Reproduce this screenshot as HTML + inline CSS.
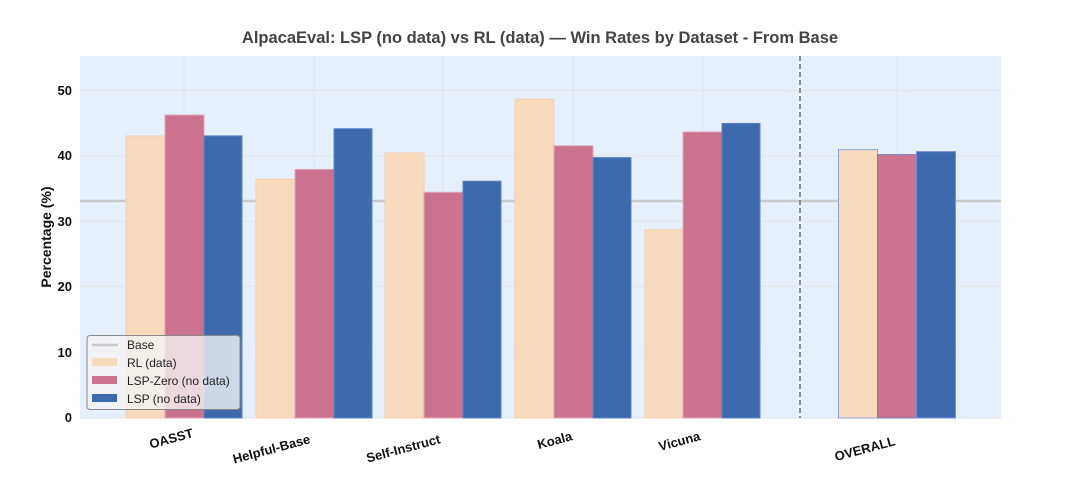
<!DOCTYPE html>
<html><head><meta charset="utf-8"><style>body{margin:0;background:#fff}</style></head><body>
<svg width="1080" height="483" xmlns="http://www.w3.org/2000/svg" font-family="Liberation Sans, sans-serif">
<rect x="0" y="0" width="1080" height="483" fill="#fff"/>
<text x="540" y="43" text-anchor="middle" font-size="16.5" font-weight="bold" fill="#444">AlpacaEval: LSP (no data) vs RL (data) — Win Rates by Dataset - From Base</text>
<rect x="80" y="56" width="921" height="362" fill="#e6f0fc"/>
<g stroke="#e3e3e8" stroke-width="1">
<line x1="80" x2="1001" y1="90.5" y2="90.5"/><line x1="80" x2="1001" y1="155.9" y2="155.9"/>
<line x1="80" x2="1001" y1="221.2" y2="221.2"/><line x1="80" x2="1001" y1="286.6" y2="286.6"/>
<line x1="80" x2="1001" y1="352" y2="352"/><line x1="80" x2="1001" y1="418" y2="418"/>
<line x1="184" x2="184" y1="56" y2="418"/><line x1="314" x2="314" y1="56" y2="418"/>
<line x1="443" x2="443" y1="56" y2="418"/><line x1="573" x2="573" y1="56" y2="418"/>
<line x1="703" x2="703" y1="56" y2="418"/><line x1="897" x2="897" y1="56" y2="418"/>
</g>
<g font-size="13" font-weight="bold" fill="#111" text-anchor="end">
<text x="72" y="95">50</text><text x="72" y="160">40</text><text x="72" y="226">30</text>
<text x="72" y="291">20</text><text x="72" y="357">10</text><text x="72" y="422">0</text>
</g>
<text transform="translate(51,237) rotate(-90)" text-anchor="middle" font-size="14" font-weight="bold" fill="#111">Percentage (%)</text>
<line x1="80" x2="1001" y1="201" y2="201" stroke="#c8cacc" stroke-width="2.5"/>
<g stroke-width="1">
<!-- OASST -->
<rect x="126" y="135.9" width="39" height="282.1" fill="#f8dbbd" stroke="#f3d0b0"/>
<rect x="165" y="115" width="39" height="303" fill="#cb738e" stroke="#e0a4b8"/>
<rect x="204" y="135.9" width="38" height="282.1" fill="#3d6aad" stroke="#5b86c8"/>
<!-- Helpful -->
<rect x="256" y="179.2" width="39" height="238.8" fill="#f8dbbd" stroke="#f3d0b0"/>
<rect x="295" y="169.4" width="39" height="248.6" fill="#cb738e" stroke="#e0a4b8"/>
<rect x="334" y="128.7" width="38" height="289.3" fill="#3d6aad" stroke="#5b86c8"/>
<!-- Self -->
<rect x="385" y="153" width="39" height="265" fill="#f8dbbd" stroke="#f3d0b0"/>
<rect x="424" y="192.3" width="39" height="225.7" fill="#cb738e" stroke="#e0a4b8"/>
<rect x="463" y="181.2" width="38" height="236.8" fill="#3d6aad" stroke="#5b86c8"/>
<!-- Koala -->
<rect x="515" y="99.2" width="39" height="318.8" fill="#f8dbbd" stroke="#f3d0b0"/>
<rect x="554" y="145.8" width="39" height="272.2" fill="#cb738e" stroke="#e0a4b8"/>
<rect x="593" y="157.6" width="38" height="260.4" fill="#3d6aad" stroke="#5b86c8"/>
<!-- Vicuna -->
<rect x="645" y="229.7" width="38" height="188.3" fill="#f8dbbd" stroke="#f3d0b0"/>
<rect x="683" y="132" width="39" height="286" fill="#cb738e" stroke="#e0a4b8"/>
<rect x="722" y="123.4" width="38" height="294.6" fill="#3d6aad" stroke="#5b86c8"/>
<!-- Overall -->
<rect x="838.5" y="149.7" width="39" height="268.3" fill="#f8dbbd" stroke="#8fa0e6"/>
<rect x="877.5" y="154.6" width="39" height="263.4" fill="#cb738e" stroke="#7c78d0"/>
<rect x="916.5" y="151.6" width="39" height="266.4" fill="#3d6aad" stroke="#7c8ee0"/>
</g>
<line x1="800" x2="800" y1="56" y2="418" stroke="#777" stroke-width="1.6" stroke-dasharray="5,3"/>
<g font-size="13" font-weight="bold" fill="#111" text-anchor="end">
<text transform="translate(194,437) rotate(-15)">OASST</text>
<text transform="translate(311,443) rotate(-15)">Helpful-Base</text>
<text transform="translate(441,443) rotate(-15)">Self-Instruct</text>
<text transform="translate(573,440) rotate(-15)">Koala</text>
<text transform="translate(701,440) rotate(-15)">Vicuna</text>
<text transform="translate(896,445) rotate(-15)">OVERALL</text>
</g>
<g>
<rect x="87" y="335.5" width="153" height="74" rx="3" fill="#f2f2f2" fill-opacity="0.8" stroke="#888" stroke-width="1"/>
<line x1="92" x2="118" y1="345" y2="345" stroke="#c8cacc" stroke-width="2.5"/>
<rect x="92" y="358" width="25" height="8" fill="#f8dbbd"/>
<rect x="92" y="376" width="25" height="8" fill="#cb738e"/>
<rect x="92" y="394" width="25" height="8" fill="#3d6aad"/>
<g font-size="12" fill="#222">
<text x="127" y="349">Base</text><text x="127" y="367">RL (data)</text>
<text x="127" y="385">LSP-Zero (no data)</text><text x="127" y="403">LSP (no data)</text>
</g>
</g>
</svg>
</body></html>
